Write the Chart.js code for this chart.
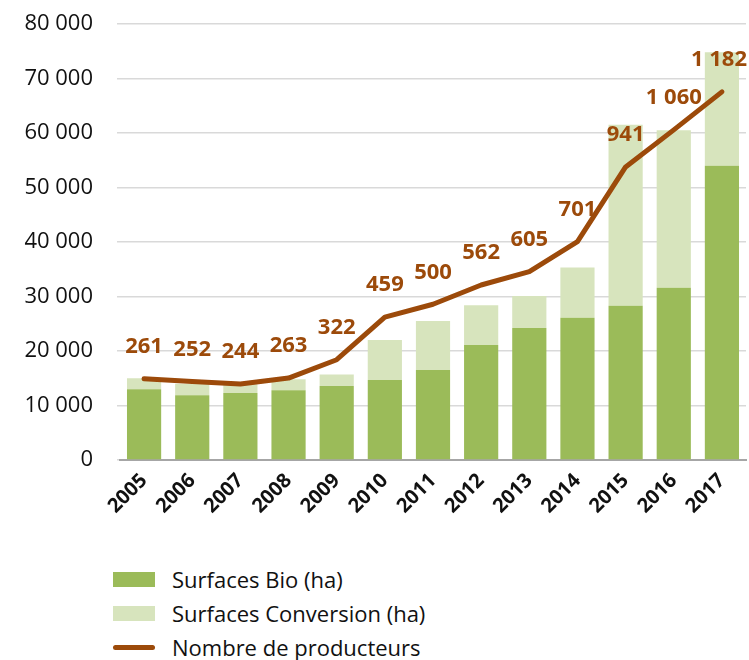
<!DOCTYPE html>
<html>
<head>
<meta charset="utf-8">
<script src="https://cdn.jsdelivr.net/npm/chart.js@4.4.1/dist/chart.umd.min.js"></script>
<style>
  html, body { margin: 0; padding: 0; background: #fff; }
  #wrap { position: relative; width: 749px; height: 660px; }
  #c { position: absolute; left: 0; top: 0; }
  #legend { position: absolute; left: 113px; top: 562px; font-family: "Open Sans", sans-serif; font-size: 22px; color: #111; }
  .item { display: flex; align-items: center; height: 34px; }
  .sw { width: 42px; height: 15px; margin-right: 17px; }
  .ln { width: 42px; height: 5px; border-radius: 3px; margin-right: 17px; }
</style>
</head>
<body>
<div id="wrap">
  <canvas id="c" width="749" height="545"></canvas>
  <div id="legend"></div>
</div>
<script>
const years = ['2005','2006','2007','2008','2009','2010','2011','2012','2013','2014','2015','2016','2017'];
const surfacesBio = [13000, 11900, 12300, 12800, 13600, 14700, 16500, 21100, 24200, 26100, 28300, 31600, 54000];
const surfacesConversion = [2000, 2100, 1600, 2000, 2100, 7300, 9000, 7300, 5900, 9200, 33200, 28900, 20800];
const producteurs = [261, 252, 244, 263, 322, 459, 500, 562, 605, 701, 941, 1060, 1182];
const yTicks = [0, 10000, 20000, 30000, 40000, 50000, 60000, 70000, 80000];

const cBio = '#9BBB59', cConv = '#D7E4BD', cLine = '#9C4A0A';
const fmt = v => String(v).replace(/\B(?=(\d{3})+(?!\d))/g, ' ');

const labelPlugin = {
  id: 'lineLabels',
  afterDatasetsDraw(chart) {
    const meta = chart.getDatasetMeta(0);
    const ctx = chart.ctx;
    ctx.save();
    ctx.font = 'bold 22px "Open Sans", sans-serif';
    ctx.fillStyle = cLine;
    ctx.textAlign = 'center';
    ctx.textBaseline = 'middle';
    meta.data.forEach((pt, i) => {
      const txt = fmt(chart.data.datasets[0].data[i]);
      let x = pt.x;
      const w = ctx.measureText(txt).width;
      if (x + w / 2 > chart.width - 2) x = chart.width - 2 - w / 2;
      ctx.fillText(txt, x, pt.y - 32);
    });
    ctx.restore();
  }
};

const chart = new Chart(document.getElementById('c'), {
  type: 'bar',
  data: {
    labels: years,
    datasets: [
      { type: 'line', label: 'Nombre de producteurs', data: producteurs, yAxisID: 'y2',
        borderColor: cLine, backgroundColor: cLine, borderWidth: 5, pointRadius: 0,
        borderCapStyle: 'round', borderJoinStyle: 'round', tension: 0 },
      { label: 'Surfaces Bio (ha)', data: surfacesBio, backgroundColor: cBio, stack: 's',
        categoryPercentage: 1, barPercentage: 0.71 },
      { label: 'Surfaces Conversion (ha)', data: surfacesConversion, backgroundColor: cConv, stack: 's',
        categoryPercentage: 1, barPercentage: 0.71 }
    ]
  },
  options: {
    responsive: false,
    animation: false,
    layout: { padding: { top: 24, right: 3, left: 0, bottom: 0 } },
    plugins: { legend: { display: false }, tooltip: { enabled: false } },
    scales: {
      x: {
        stacked: true,
        grid: { display: false, drawTicks: false },
        border: { color: '#A6A6A6', width: 2 },
        ticks: { color: '#111', font: { family: '"Open Sans", sans-serif', size: 20, weight: 'bold' },
                 minRotation: 45, maxRotation: 45, padding: 9 },
        afterFit(s) { s.height = 85; s.paddingTop = 0; }
      },
      y: {
        stacked: true, min: 0, max: 80000,
        afterBuildTicks(s) { s.ticks = yTicks.map(v => ({ value: v })); },
        grid: { color: '#D9D9D9', lineWidth: 1.5, tickLength: 3, drawOnChartArea: true },
        border: { display: false },
        ticks: { color: '#111', font: { family: '"Open Sans", sans-serif', size: 22 }, padding: 24,
                 callback: v => fmt(v) },
        afterFit(s) { s.width = 120; s.paddingTop = 0; s.paddingBottom = 0; }
      },
      y2: { display: false, min: 0, max: 1400 }
    }
  },
  plugins: [labelPlugin]
});

const legendItems = [
  { text: 'Surfaces Bio (ha)', color: cBio, kind: 'box' },
  { text: 'Surfaces Conversion (ha)', color: cConv, kind: 'box' },
  { text: 'Nombre de producteurs', color: cLine, kind: 'line' }
];
const lg = document.getElementById('legend');
legendItems.forEach(it => {
  const d = document.createElement('div'); d.className = 'item';
  const s = document.createElement('span'); s.className = it.kind === 'box' ? 'sw' : 'ln';
  s.style.background = it.color;
  const t = document.createElement('span'); t.textContent = it.text;
  d.appendChild(s); d.appendChild(t); lg.appendChild(d);
});
</script>
</body>
</html>
